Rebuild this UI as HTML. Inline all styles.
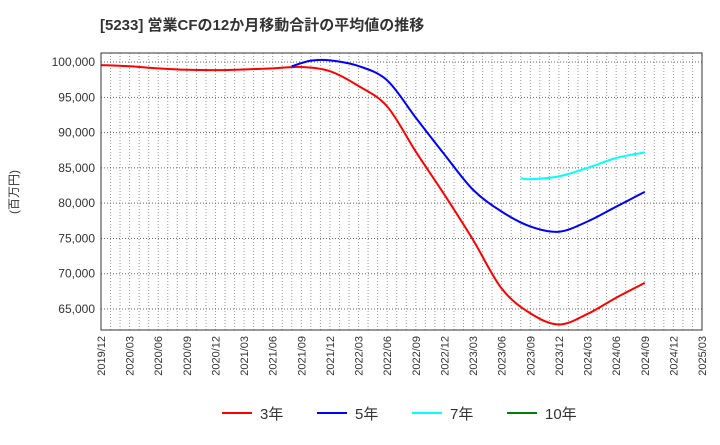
<!DOCTYPE html>
<html><head><meta charset="utf-8"><style>
body{margin:0;background:#fff;font-family:"Liberation Sans","Noto Sans CJK JP",sans-serif}
svg text{font-family:"Liberation Sans","Noto Sans CJK JP",sans-serif}
</style></head><body>
<svg id="c" width="720" height="440" xmlns="http://www.w3.org/2000/svg">
<text x="100" y="30" font-size="15" font-weight="bold" fill="#333">[5233]  営業CFの12か月移動合計の平均値の推移</text>
<text transform="translate(18,192) rotate(-90)" font-size="12" fill="#333" text-anchor="middle">(百万円)</text>
<g id="grid"></g><g id="series"></g><g id="axes"></g><g id="legend"></g>
</svg>
<script>
const xTickLabels=["2019/12","2020/03","2020/06","2020/09","2020/12","2021/03","2021/06","2021/09","2021/12","2022/03","2022/06","2022/09","2022/12","2023/03","2023/06","2023/09","2023/12","2024/03","2024/06","2024/09","2024/12","2025/03"];
const yTicks=[65000,70000,75000,80000,85000,90000,95000,100000];
const seriesNames=["3年","5年","7年","10年"];
const seriesColors=["#ff0000","#0000ff","#00ffff","#008000"];
// month index (0 = 2019/12)
const m3=[0,3,6,9,12,15,18,21,24,27,30,33,36,39,42,45,48,51,54,57];
const v3=[99570,99400,99100,98900,98850,98950,99100,99300,98700,96600,93700,87300,81200,74800,67900,64400,62800,64300,66600,68700];
const m5=[20,22,24,27,30,33,36,39,42,45,48,51,54,57];
const v5=[99400,100200,100240,99430,97400,92100,86900,81900,78800,76700,75950,77400,79500,81600];
const m7=[44,45,48,51,54,57];
const v7=[83550,83400,83800,85000,86400,87200];
const m10=[];const v10=[];

const L=101,R=702,T=53,B=330,yMin=62025,yMax=101280,nM=63;
const X=m=>L+(R-L)*m/nM, Y=v=>B-(B-T)*(v-yMin)/(yMax-yMin);
const NS="http://www.w3.org/2000/svg";
function mk(t,a,p){const e=document.createElementNS(NS,t);for(const k in a)e.setAttribute(k,a[k]);p.appendChild(e);return e;}
const grid=document.getElementById('grid'),axes=document.getElementById('axes'),ser=document.getElementById('series'),leg=document.getElementById('legend');
for(let m=1;m<nM;m++){const l=mk('line',{x1:X(m),x2:X(m),y1:T,y2:B,stroke:'#999','stroke-dasharray':'1,2','stroke-width':1},grid);

}
yTicks.forEach(v=>{const l=mk('line',{x1:L,x2:R,y1:Y(v),y2:Y(v),stroke:'#666','stroke-dasharray':'1,2','stroke-width':1},grid);


const t=mk('text',{x:L-6,y:Y(v)+4,'font-size':12,fill:'#333','text-anchor':'end'},axes);t.textContent=v.toLocaleString('en-US');

});
xTickLabels.forEach((s,i)=>{const x=X(i*3);const t=mk('text',{transform:`translate(${x+4},${B+6}) rotate(-90)`,'font-size':11,fill:'#333','text-anchor':'end'},axes);t.textContent=s;

});
const fr=mk('rect',{x:L,y:T,width:R-L,height:B-T,fill:'none',stroke:'#333','stroke-width':1},axes);


function path(ms,vs){if(!ms.length)return'';const p=ms.map((m,i)=>[X(m),Y(vs[i])]);let d=`M${p[0][0]},${p[0][1]}`;
for(let i=0;i<p.length-1;i++){const p0=p[i-1]||p[i],p1=p[i],p2=p[i+1],p3=p[i+2]||p2;
d+=` C${p1[0]+(p2[0]-p0[0])/6},${p1[1]+(p2[1]-p0[1])/6} ${p2[0]-(p3[0]-p1[0])/6},${p2[1]-(p3[1]-p1[1])/6} ${p2[0]},${p2[1]}`;}return d;}
[[m3,v3],[m5,v5],[m7,v7],[m10,v10]].forEach((s,i)=>{const e=mk('path',{d:path(s[0],s[1]),fill:'none',stroke:seriesColors[i],'stroke-width':2},ser);

});
const lx=[222,317,412,507];
seriesNames.forEach((n,i)=>{const g=mk('g',{},leg);


mk('line',{x1:lx[i],x2:lx[i]+30,y1:413,y2:413,stroke:seriesColors[i],'stroke-width':2},g);
const t=mk('text',{x:lx[i]+38,y:419,'font-size':15,fill:'#333'},g);t.textContent=n;});
</script>
</body></html>
